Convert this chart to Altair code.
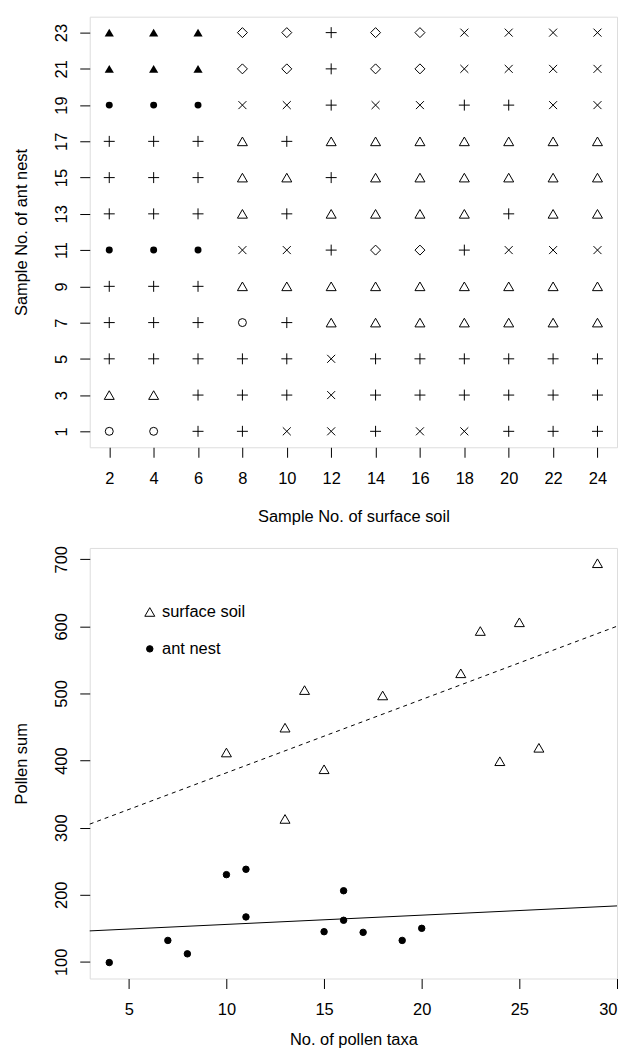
import altair as alt
import pandas as pd

# ---------------- top panel: symbol grid ----------------
grid_cols = [2, 4, 6, 8, 10, 12, 14, 16, 18, 20, 22, 24]
grid_rows = [23, 21, 19, 17, 15, 13, 11, 9, 7, 5, 3, 1]
# A = filled triangle, D = open diamond, P = plus, X = cross,
# T = open triangle, F = filled circle, O = open circle
grid_symbols = [
    "AAADDPDDXXXX",
    "AAADDPDDXXXX",
    "FFFXXPXXPPXX",
    "PPPTPTTTTTTT",
    "PPPTTPTTTTTT",
    "PPPTPTTTTPTT",
    "FFFXXPDDPXXX",
    "PPPTTTTTTTTT",
    "PPPOPTTTTTTT",
    "PPPPPXPPPPPP",
    "TTPPPXPPPPPP",
    "OOPPXXPXXPPP",
]

# ---------------- bottom panel: scatter ----------------
soil_taxa = [10, 13, 13, 14, 15, 18, 22, 23, 24, 25, 26, 29]
soil_sum = [412, 313, 449, 505, 387, 497, 530, 593, 399, 606, 419, 694]
nest_taxa = [4, 7, 8, 10, 11, 11, 15, 16, 16, 17, 19, 20]
nest_sum = [99, 132, 112, 230, 238, 167, 145, 206, 162, 144, 132, 150]
group_names = ["surface soil", "ant nest"]

FONT = "Liberation Sans"
FS = 16.5

recs = []
for yv, row in zip(grid_rows, grid_symbols):
    for xv, s in zip(grid_cols, row):
        recs.append({"x": xv, "y": yv, "sym": s})
grid_df = pd.DataFrame(recs)

PLUS = "M-1,0L1,0M0,-1L0,1"
CROSS = "M-1,-1L1,1M-1,1L1,-1"
sym_style = {
    "A": dict(shape="triangle-up", size=85, filled=True),
    "D": dict(shape="diamond", size=100, filled=False),
    "P": dict(shape=PLUS, size=121, filled=False),
    "X": dict(shape=CROSS, size=64, filled=False),
    "T": dict(shape="triangle-up", size=100, filled=False),
    "F": dict(shape="circle", size=49, filled=True),
    "O": dict(shape="circle", size=64, filled=False),
}


def xaxis(vals, title, title_pad, flush=False):
    return alt.Axis(values=vals, title=title, domain=False, grid=False,
                    tickSize=10, tickColor="black", tickWidth=1,
                    labelFont=FONT, labelFontSize=FS, labelColor="black",
                    labelPadding=13, labelAngle=0, labelFlush=flush,
                    titleFont=FONT, titleFontSize=FS, titleFontWeight="normal",
                    titleColor="black", titlePadding=title_pad)


def yaxis(vals, title):
    return alt.Axis(values=vals, title=title, domain=False, grid=False,
                    tickSize=10, tickColor="black", tickWidth=1,
                    labelFont=FONT, labelFontSize=FS, labelColor="black",
                    labelPadding=10, labelAngle=-90, labelAlign="center",
                    labelBaseline="bottom",
                    titleFont=FONT, titleFontSize=FS, titleFontWeight="normal",
                    titleColor="black", titlePadding=24)


gx = alt.X("x:Q", scale=alt.Scale(domain=[1.12, 24.88], nice=False, zero=False),
           axis=xaxis(grid_cols, "Sample No. of surface soil", 22))
gy = alt.Y("y:Q", scale=alt.Scale(domain=[0.12, 23.88], nice=False, zero=False),
           axis=yaxis(grid_rows, "Sample No. of ant nest"))

grid_layers = []
for code, st in sym_style.items():
    if st["filled"]:
        props = dict(shape=st["shape"], size=st["size"], filled=True, fill="black",
                     strokeWidth=0, opacity=1)
    else:
        props = dict(shape=st["shape"], size=st["size"], filled=False, stroke="black",
                     strokeWidth=1, opacity=1)
    grid_layers.append(
        alt.Chart(grid_df).mark_point(**props)
        .encode(x=gx, y=gy)
        .transform_filter(alt.datum.sym == code)
    )

top = alt.layer(*grid_layers).properties(width=529, height=432)

# bottom
scat_df = pd.DataFrame({
    "x": soil_taxa + nest_taxa,
    "y": soil_sum + nest_sum,
    "group": [group_names[0]] * len(soil_taxa) + [group_names[1]] * len(nest_taxa),
})

bx = alt.X("x:Q", scale=alt.Scale(domain=[3, 30], nice=False, zero=False),
           axis=xaxis([5, 10, 15, 20, 25, 30], "No. of pollen taxa", 14, flush=True))
by = alt.Y("y:Q", scale=alt.Scale(domain=[75.2, 716.8], nice=False, zero=False),
           axis=yaxis([100, 200, 300, 400, 500, 600, 700], "Pollen sum"))


def leg():
    return alt.Legend(title=None, orient="none", legendX=52, legendY=589,
                      labelFont=FONT, labelFontSize=FS, labelColor="black",
                      rowPadding=20, labelOffset=4, symbolStrokeWidth=1,
                      symbolOpacity=1)


points = alt.Chart(scat_df).mark_point(opacity=1, strokeWidth=1).encode(
    x=bx, y=by,
    shape=alt.Shape("group:N", scale=alt.Scale(domain=group_names, range=["triangle-up", "circle"]),
                    legend=leg()),
    fill=alt.Fill("group:N", scale=alt.Scale(domain=group_names, range=["transparent", "black"]),
                  legend=leg()),
    stroke=alt.Stroke("group:N", scale=alt.Scale(domain=group_names, range=["black", "black"]),
                      legend=leg()),
    size=alt.Size("group:N", scale=alt.Scale(domain=group_names, range=[100, 42]),
                  legend=leg()),
)

soil_line = alt.Chart(scat_df).transform_filter(alt.datum.group == group_names[0]).transform_regression(
    "x", "y", extent=[3, 30]).mark_line(color="black", strokeWidth=1, strokeDash=[4, 4]).encode(x=bx, y=by)
nest_line = alt.Chart(scat_df).transform_filter(alt.datum.group == group_names[1]).transform_regression(
    "x", "y", extent=[3, 30]).mark_line(color="black", strokeWidth=1).encode(x=bx, y=by)

bottom = alt.layer(soil_line, nest_line, points).properties(width=529, height=432)

chart = alt.vconcat(top, bottom, spacing=101, bounds="flush").configure_view(
    stroke="black", strokeWidth=1
).configure(padding={"left": 5, "top": 6, "right": 0, "bottom": 0}, background="white")

chart.save("out.html", embed_options={"renderer": "svg", "actions": False})
